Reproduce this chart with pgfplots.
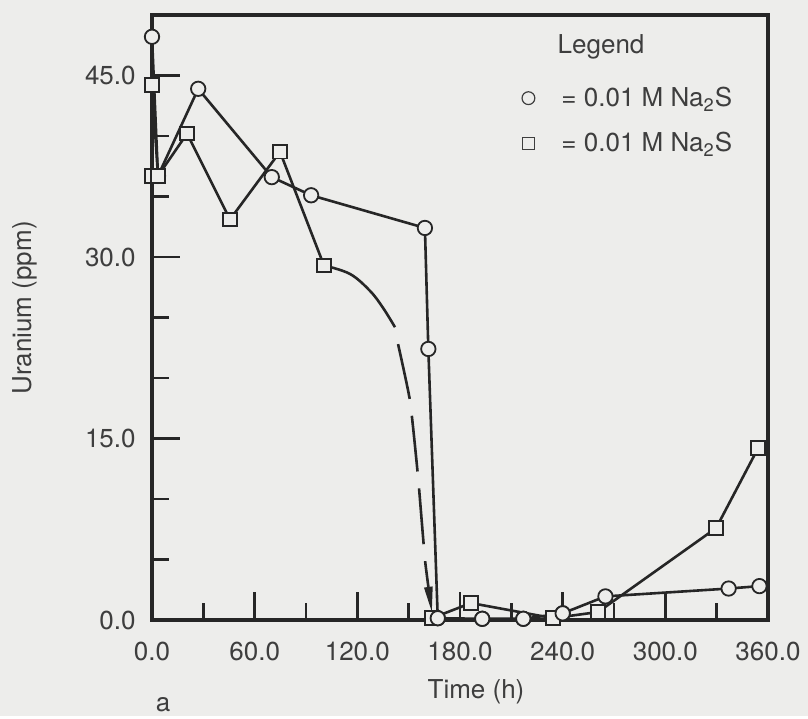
\documentclass[border=0pt]{standalone}
\usepackage{fontspec}
\setmainfont{TeX Gyre Heros}
\usepackage{pgfplots}
\pgfplotsset{compat=1.18}
\usetikzlibrary{arrows.meta,backgrounds}
\definecolor{bg}{RGB}{237,237,235}
\definecolor{ink}{RGB}{38,38,38}
\definecolor{txt}{RGB}{62,62,62}
\begin{document}
\begin{tikzpicture}
\begin{axis}[name=ax, scale only axis, width=308pt, height=302.5pt,
  xmin=0, xmax=360, ymin=0, ymax=50, clip=false,
  line width=1.7pt,
  axis line style={ink, line width=1.7pt},
  xtick={0,60,120,180,240,300,360},
  xticklabels={0.0,60.0,120.0,180.0,240.0,300.0,360.0},
  ytick={0,15,30,45}, yticklabels={0.0,15.0,30.0,45.0},
  minor xtick={30,90,150,210,270,330},
  minor ytick={5,10,20,25,35,40},
  tick align=inside, xtick pos=left, ytick pos=left,
  major tick length=14pt, minor tick length=8.5pt,
  every tick/.style={ink, line width=1.3pt},
  tick label style={font=\fontsize{13}{15}\selectfont, text=txt},
  xticklabel style={yshift=-7pt}, yticklabel style={xshift=-4pt},
  legend style={at={(rel axis cs:0.597,0.825)}, anchor=west, draw=none, fill=none,
    font=\fontsize{13}{15}\selectfont, text=txt, row sep=7.5pt, inner sep=0pt},
  legend cell align=left,
]
% circles series
\addplot[ink, line width=1.3pt, mark=*, mark size=3.6pt,
  mark options={fill=bg, draw=ink, line width=0.9pt}, forget plot]
  coordinates {(0,48.2) (3.5,36.7) (27,43.9) (70,36.6) (93,35.1) (159.5,32.4)
  (161.5,22.4) (167,0.15) (193,0.1) (217,0.1) (240,0.55) (265,1.95) (337,2.6) (355,2.8)};
% squares series, first part
\addplot[ink, line width=1.3pt, mark=square*, mark size=3.4pt,
  mark options={fill=bg, draw=ink, line width=0.9pt}, forget plot]
  coordinates {(0,36.7) (0,44.2) (3.5,36.7) (20.5,40.2) (45.6,33.1) (74.8,38.7) (100.5,29.3)};
% curved drop: solid then dashed with arrow
\addplot[ink, line width=1.3pt, smooth, tension=0.6, forget plot]
  coordinates {(100.5,29.3) (115.7,28.6) (127.4,27.2) (135,25.8) (142,24.2)};
\addplot[ink, line width=1.3pt, smooth, tension=0.3, dash pattern=on 28pt off 8.5pt,
  -{Triangle[length=13pt,width=4pt]}, forget plot]
  coordinates {(143.8,22.8) (150.8,18.1) (155.5,11.8) (159.6,4.9) (163.6,0.6)};
% squares series, second part
\addplot[ink, line width=1.3pt, mark=square*, mark size=3.4pt,
  mark options={fill=bg, draw=ink, line width=0.9pt}, forget plot]
  coordinates {(163.6,0.15) (186.4,1.4) (234.4,0.15) (260.7,0.66) (329.7,7.6) (354.2,14.2)};
% redraw circle marks on top
\addplot[only marks, mark=*, mark size=3.6pt,
  mark options={fill=bg, draw=ink, line width=0.9pt}, forget plot]
  coordinates {(167,0.15) (193,0.1) (217,0.1) (240,0.55)};

\addlegendimage{legend image code/.code={\path[draw=none] (0pt,0pt) -- (18pt,0pt);
  \draw[txt, line width=0.6pt] (3.5pt,0pt) circle (3.2pt);}}
\addlegendentry{= 0.01 M Na\textsubscript{2}S}
\addlegendimage{legend image code/.code={\path[draw=none] (0pt,0pt) -- (18pt,0pt);
  \draw[txt, line width=0.6pt] (0.5pt,-3pt) rectangle (6.5pt,3pt);}}
\addlegendentry{= 0.01 M Na\textsubscript{2}S}

\node[font=\fontsize{13}{15}\selectfont, text=txt] at (rel axis cs:0.729,0.947) {Legend};
\node[rotate=90, font=\fontsize{13}{15}\selectfont, text=txt] at (rel axis cs:-0.206,0.516) {Uranium (ppm)};
\node[font=\fontsize{13}{15}\selectfont, text=txt] at (rel axis cs:0.526,-0.119) {Time (h)};
\node[font=\fontsize{13}{15}\selectfont, text=txt] at (rel axis cs:0.018,-0.14) {a};
\end{axis}
\begin{scope}[on background layer]
\fill[bg] ([shift={(-76pt,-48pt)}]ax.south west) rectangle ([shift={(20pt,7.5pt)}]ax.north east);
\end{scope}
\end{tikzpicture}
\end{document}
